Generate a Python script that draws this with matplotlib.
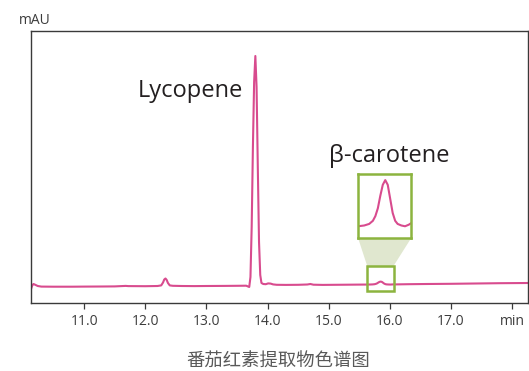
import matplotlib
matplotlib.use("Agg")
import matplotlib.pyplot as plt
from matplotlib.patches import Rectangle, Polygon

# retention time (min) and detector signal (mAU)
time = [10.13, 10.15, 10.17, 10.20, 10.24, 10.30, 10.50, 10.80, 11.00, 11.30,
        11.50, 11.68, 11.72, 12.00, 12.20, 12.26, 12.29, 12.31, 12.33, 12.35,
        12.37, 12.40, 12.45, 12.60, 12.80, 13.00, 13.30, 13.50, 13.65, 13.70,
        13.72, 13.74, 13.76, 13.78, 13.80, 13.82, 13.84, 13.86, 13.88, 13.90,
        13.93, 13.97, 14.01, 14.05, 14.09, 14.15, 14.30, 14.50, 14.65, 14.70,
        14.75, 14.90, 15.10, 15.30, 15.50, 15.63, 15.68, 15.72, 15.75, 15.77,
        15.79, 15.81, 15.83, 15.85, 15.87, 15.89, 15.91, 15.93, 15.95, 15.98,
        16.01, 16.04, 16.07, 16.10, 16.30, 16.60, 17.00, 17.40, 17.80, 18.26]
signal = [-2.0, 1.5, 3.0, 2.2, 1.0, 0.4, 0.3, 0.3, 0.4, 0.5,
          0.6, 1.1, 0.9, 0.8, 1.0, 1.6, 4.5, 7.5, 8.5, 7.0,
          4.0, 1.6, 1.2, 1.0, 0.9, 1.0, 1.1, 1.2, 1.3, 0.0,
          10.0, 60.0, 140.0, 205.0, 231.0, 200.0, 120.0, 45.0, 12.0, 4.0,
          3.0, 2.8, 3.6, 3.4, 2.6, 2.2, 2.1, 2.2, 2.5, 3.0,
          2.3, 2.1, 2.2, 2.3, 2.4, 2.45, 2.5, 2.6, 2.8, 3.1,
          3.6, 4.4, 5.1, 5.4, 5.1, 4.2, 3.3, 2.8, 2.6, 2.5,
          2.45, 2.55, 2.7, 2.6, 2.8, 3.0, 3.2, 3.5, 3.8, 4.0]

ticks = [11, 12, 13, 14, 15, 16, 17, 18]
tick_labels = ["11.0", "12.0", "13.0", "14.0", "15.0", "16.0", "17.0", "min"]

line_color = "#d84b8e"
green = "#8cb43f"

fig = plt.figure(figsize=(5.29, 3.71), dpi=100)
ax = fig.add_axes([31 / 529, 68 / 371, 497 / 529, 272 / 371])
ax.plot(time, signal, color=line_color, lw=1.5, solid_joinstyle="round")
ax.set_xlim(10.13, 18.26)
ax.set_ylim(-16, 256)
ax.set_xticks(ticks)
ax.set_xticklabels(tick_labels, fontsize=10, color="#3c3c3c", family="Open Sans")
ax.tick_params(axis="x", direction="out", length=4, width=0.9, color="#3a3a3a", pad=4)
ax.set_yticks([])
for s in ax.spines.values():
    s.set_color("#3a3a3a")
    s.set_linewidth(1.0)

# zoom window around the beta-carotene peak
zx0, zx1 = 15.63, 16.06
zy0, zy1 = -4, 21
ax.add_patch(Rectangle((zx0, zy0), zx1 - zx0, zy1 - zy0, fill=False,
                       ec=green, lw=1.8, zorder=5))

# magnified inset drawn above the window
ix0, ix1 = 15.48, 16.35
iy0, iy1 = 49, 113
ax.add_patch(Polygon([(ix0, iy0), (ix1, iy0), (zx1, zy1), (zx0, zy1)],
                     closed=True, fc="#e0e7cf", ec="none", zorder=1))
ins = ax.inset_axes([ix0, iy0, ix1 - ix0, iy1 - iy0], transform=ax.transData)
ins.plot(time, signal, color=line_color, lw=1.5)
ins.set_xlim(zx0, zx1)
ins.set_ylim(1.7, 5.79)
ins.set_xticks([])
ins.set_yticks([])
for s in ins.spines.values():
    s.set_color(green)
    s.set_linewidth(1.8)

ax.text(12.73, 190, "Lycopene", fontsize=17, color="#231f20",
        family="Open Sans", ha="center", va="baseline")
ax.text(15.99, 125, "β-carotene", fontsize=17, color="#231f20",
        family="Open Sans", ha="center", va="baseline")

fig.text(35 / 529, 1 - 20 / 371, "mAU", fontsize=10, color="#3c3c3c",
         family="Open Sans", ha="center", va="center")
fig.text(278 / 529, 1 - 362 / 371, "番茄红素提取物色谱图", fontsize=13.2,
         color="#595959", family=["Noto Sans CJK SC", "DejaVu Sans"],
         ha="center", va="center")

fig.savefig("out.png", dpi=100)
